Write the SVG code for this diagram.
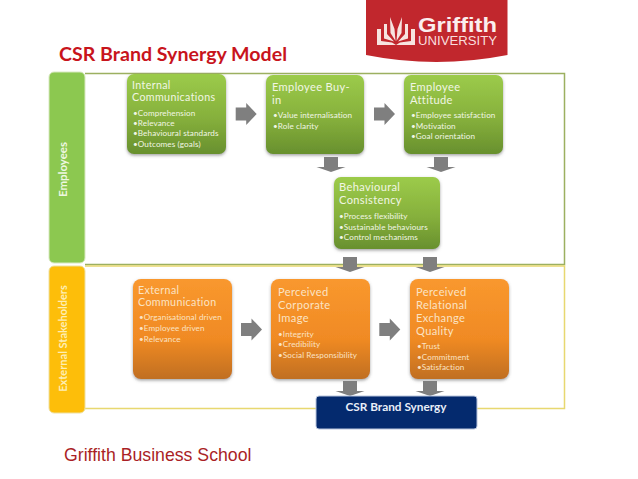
<svg xmlns="http://www.w3.org/2000/svg" width="638" height="479" viewBox="0 0 638 479">
<defs>
<linearGradient id="g" x1="0" y1="0" x2="0" y2="1"><stop offset="0" stop-color="#9ccb4a"/><stop offset="0.55" stop-color="#86b03c"/><stop offset="1" stop-color="#68902e"/></linearGradient>
<linearGradient id="o" x1="0" y1="0" x2="0" y2="1"><stop offset="0" stop-color="#f9982e"/><stop offset="0.6" stop-color="#f08a24"/><stop offset="1" stop-color="#c06f24"/></linearGradient>
<filter id="s" x="-10%" y="-10%" width="120%" height="125%"><feDropShadow dx="0" dy="1.5" stdDeviation="1.5" flood-color="#555" flood-opacity="0.55"/></filter>
<path id="ar" d="M0 -6.500H10.500V-11L21 0L10.500 11V6.500H0Z" fill="#7f7f7f"/>
<path id="ad" d="M-7 0H7V10H14.500L0 15L-14.500 10H-7Z" fill="#7f7f7f"/>
</defs>
<style>
.gb{fill:url(#g);filter:url(#s)}
.ob{fill:url(#o);filter:url(#s)}
.h{font:11.100px Lato,"Open Sans",sans-serif;fill:#f1f6e4;letter-spacing:.35px}
.hs{font-size:10.700px}
.b{font:8.150px Lato,"Open Sans",sans-serif;fill:#f1f6e4;letter-spacing:.1px}
.oh{fill:#fbe3c4}
.ob2{fill:#fbe3c4}
.side{font:bold 11.500px Lato,"Open Sans",sans-serif;text-anchor:middle}
</style>
<rect width="638" height="479" fill="#fff"/>
<g id="logo">
<path d="M366 0H507.500V55Q436 69 366 55Z" fill="#c1272d"/>
<path d="M377 29H381V41L392 42.500L396 45H377ZM415 29H411V41L400 42.500L396 45H415ZM384 24H387V34L394 41.500L384 38.500ZM408 24H405V34L398 41.500L408 38.500ZM390 17L394.500 29L395.500 41L390.500 33ZM402 17L397.500 29L396.500 41L401.500 33Z" fill="#f7e4e0"/>
<text x="418" y="32" style="font:bold 21px 'Liberation Sans',sans-serif;fill:#fbeeee" textLength="79" lengthAdjust="spacingAndGlyphs">Griffith</text>
<text x="418" y="44.500" style="font:13.500px 'Liberation Sans',sans-serif;fill:#f9dede" textLength="79" lengthAdjust="spacingAndGlyphs">UNIVERSITY</text>
</g>
<text id="title" x="59" y="61" style="font:bold 19.600px Lato,sans-serif;fill:#c8141c">CSR Brand Synergy Model</text>
<g id="frame" fill="none">
<path d="M85 73.500H564.500V264.500H85" stroke="#9cb060" stroke-width="1.500"/>
<path d="M85 266H564.500V408.500H85" stroke="#e8d870" stroke-width="1.500"/>
</g>
<g id="employees">
<rect x="49" y="72" width="36" height="191" rx="5" fill="#8cc850" stroke="#d8e8c0"/>
<text class="side" transform="translate(67,169.500) rotate(-90)" fill="#eef7e0">Employees</text>
</g>
<g id="stakeholders">
<rect x="49" y="266" width="36" height="147" rx="5" fill="#fdbe0a" stroke="#eee0a0"/>
<text class="side" transform="translate(66.500,338.500) rotate(-90)" fill="#fdeeb4" style="font-size:11px">External Stakeholders</text>
</g>
<g id="internal-communications">
<rect class="gb" x="127" y="74" width="99" height="80" rx="7"/>
<text class="h hs" x="132" y="89">Internal</text><text class="h hs" x="132" y="101">Communications</text>
<text class="b" x="133" y="115.500">•Comprehension</text><text class="b" x="133" y="125.700">•Relevance</text><text class="b" x="133" y="136">•Behavioural standards</text><text class="b" x="133" y="146.700">•Outcomes (goals)</text>
</g>
<g id="employee-buy-in">
<rect class="gb" x="266" y="75" width="98" height="79" rx="7"/>
<text class="h" x="272" y="91">Employee Buy-</text><text class="h" x="272" y="104">in</text>
<text class="b" x="273" y="118">•Value internalisation</text><text class="b" x="273" y="129">•Role clarity</text>
</g>
<g id="employee-attitude">
<rect class="gb" x="404" y="75" width="99" height="79" rx="7"/>
<text class="h" x="410" y="91">Employee</text><text class="h" x="410" y="104">Attitude</text>
<text class="b" x="411" y="118">•Employee satisfaction</text><text class="b" x="411" y="129">•Motivation</text><text class="b" x="411" y="139">•Goal orientation</text>
</g>
<g id="behavioural-consistency">
<rect class="gb" x="334" y="177" width="106" height="72" rx="7"/>
<text class="h" x="339" y="191">Behavioural</text><text class="h" x="339" y="204">Consistency</text>
<text class="b" x="339" y="219">•Process flexibility</text><text class="b" x="339" y="229.700">•Sustainable behaviours</text><text class="b" x="339" y="240">•Control mechanisms</text>
</g>
<g id="external-communication">
<rect class="ob" x="133" y="279" width="99" height="100" rx="8"/>
<text class="h hs oh" x="138" y="294">External</text><text class="h hs oh" x="138" y="306">Communication</text>
<text class="b ob2" x="139" y="320">•Organisational driven</text><text class="b ob2" x="139" y="331">•Employee driven</text><text class="b ob2" x="139" y="342">•Relevance</text>
</g>
<g id="perceived-corporate-image">
<rect class="ob" x="271" y="279" width="99" height="100" rx="8"/>
<text class="h oh" x="278" y="295.700">Perceived</text><text class="h oh" x="278" y="308.700">Corporate</text><text class="h oh" x="278" y="322">Image</text>
<text class="b ob2" x="278" y="336.700">•Integrity</text><text class="b ob2" x="278" y="347">•Credibility</text><text class="b ob2" x="278" y="357.700">•Social Responsibility</text>
</g>
<g id="perceived-relational-exchange-quality">
<rect class="ob" x="410" y="279" width="99" height="100" rx="8"/>
<text class="h oh" x="416" y="295.700">Perceived</text><text class="h oh" x="416" y="308.700">Relational</text><text class="h oh" x="416" y="322">Exchange</text><text class="h oh" x="416" y="335">Quality</text>
<text class="b ob2" x="417" y="349">•Trust</text><text class="b ob2" x="417" y="360">•Commitment</text><text class="b ob2" x="417" y="370">•Satisfaction</text>
</g>
<g id="connectors">
<use href="#ar" x="235.700" y="114"/>
<use href="#ar" x="374" y="114"/>
<use href="#ar" x="241" y="329.500"/>
<use href="#ar" x="379.300" y="329.500"/>
<use href="#ad" x="331" y="157"/>
<use href="#ad" x="441" y="157"/>
<use href="#ad" x="350" y="257"/>
<use href="#ad" x="430" y="257"/>
<use href="#ad" x="350" y="381"/>
<use href="#ad" x="430" y="381"/>
</g>
<g id="csr-brand-synergy">
<rect x="316" y="396" width="161" height="33" rx="3" fill="#042a6e" stroke="#b8c4dc"/>
<text x="396" y="411" text-anchor="middle" style="font:bold 11.800px Lato,sans-serif;fill:#e8eef8">CSR Brand Synergy</text>
</g>
<text id="footer" x="64" y="461" style="font:17.700px 'Liberation Sans',sans-serif;fill:#aa1f26">Griffith Business School</text>
</svg>
